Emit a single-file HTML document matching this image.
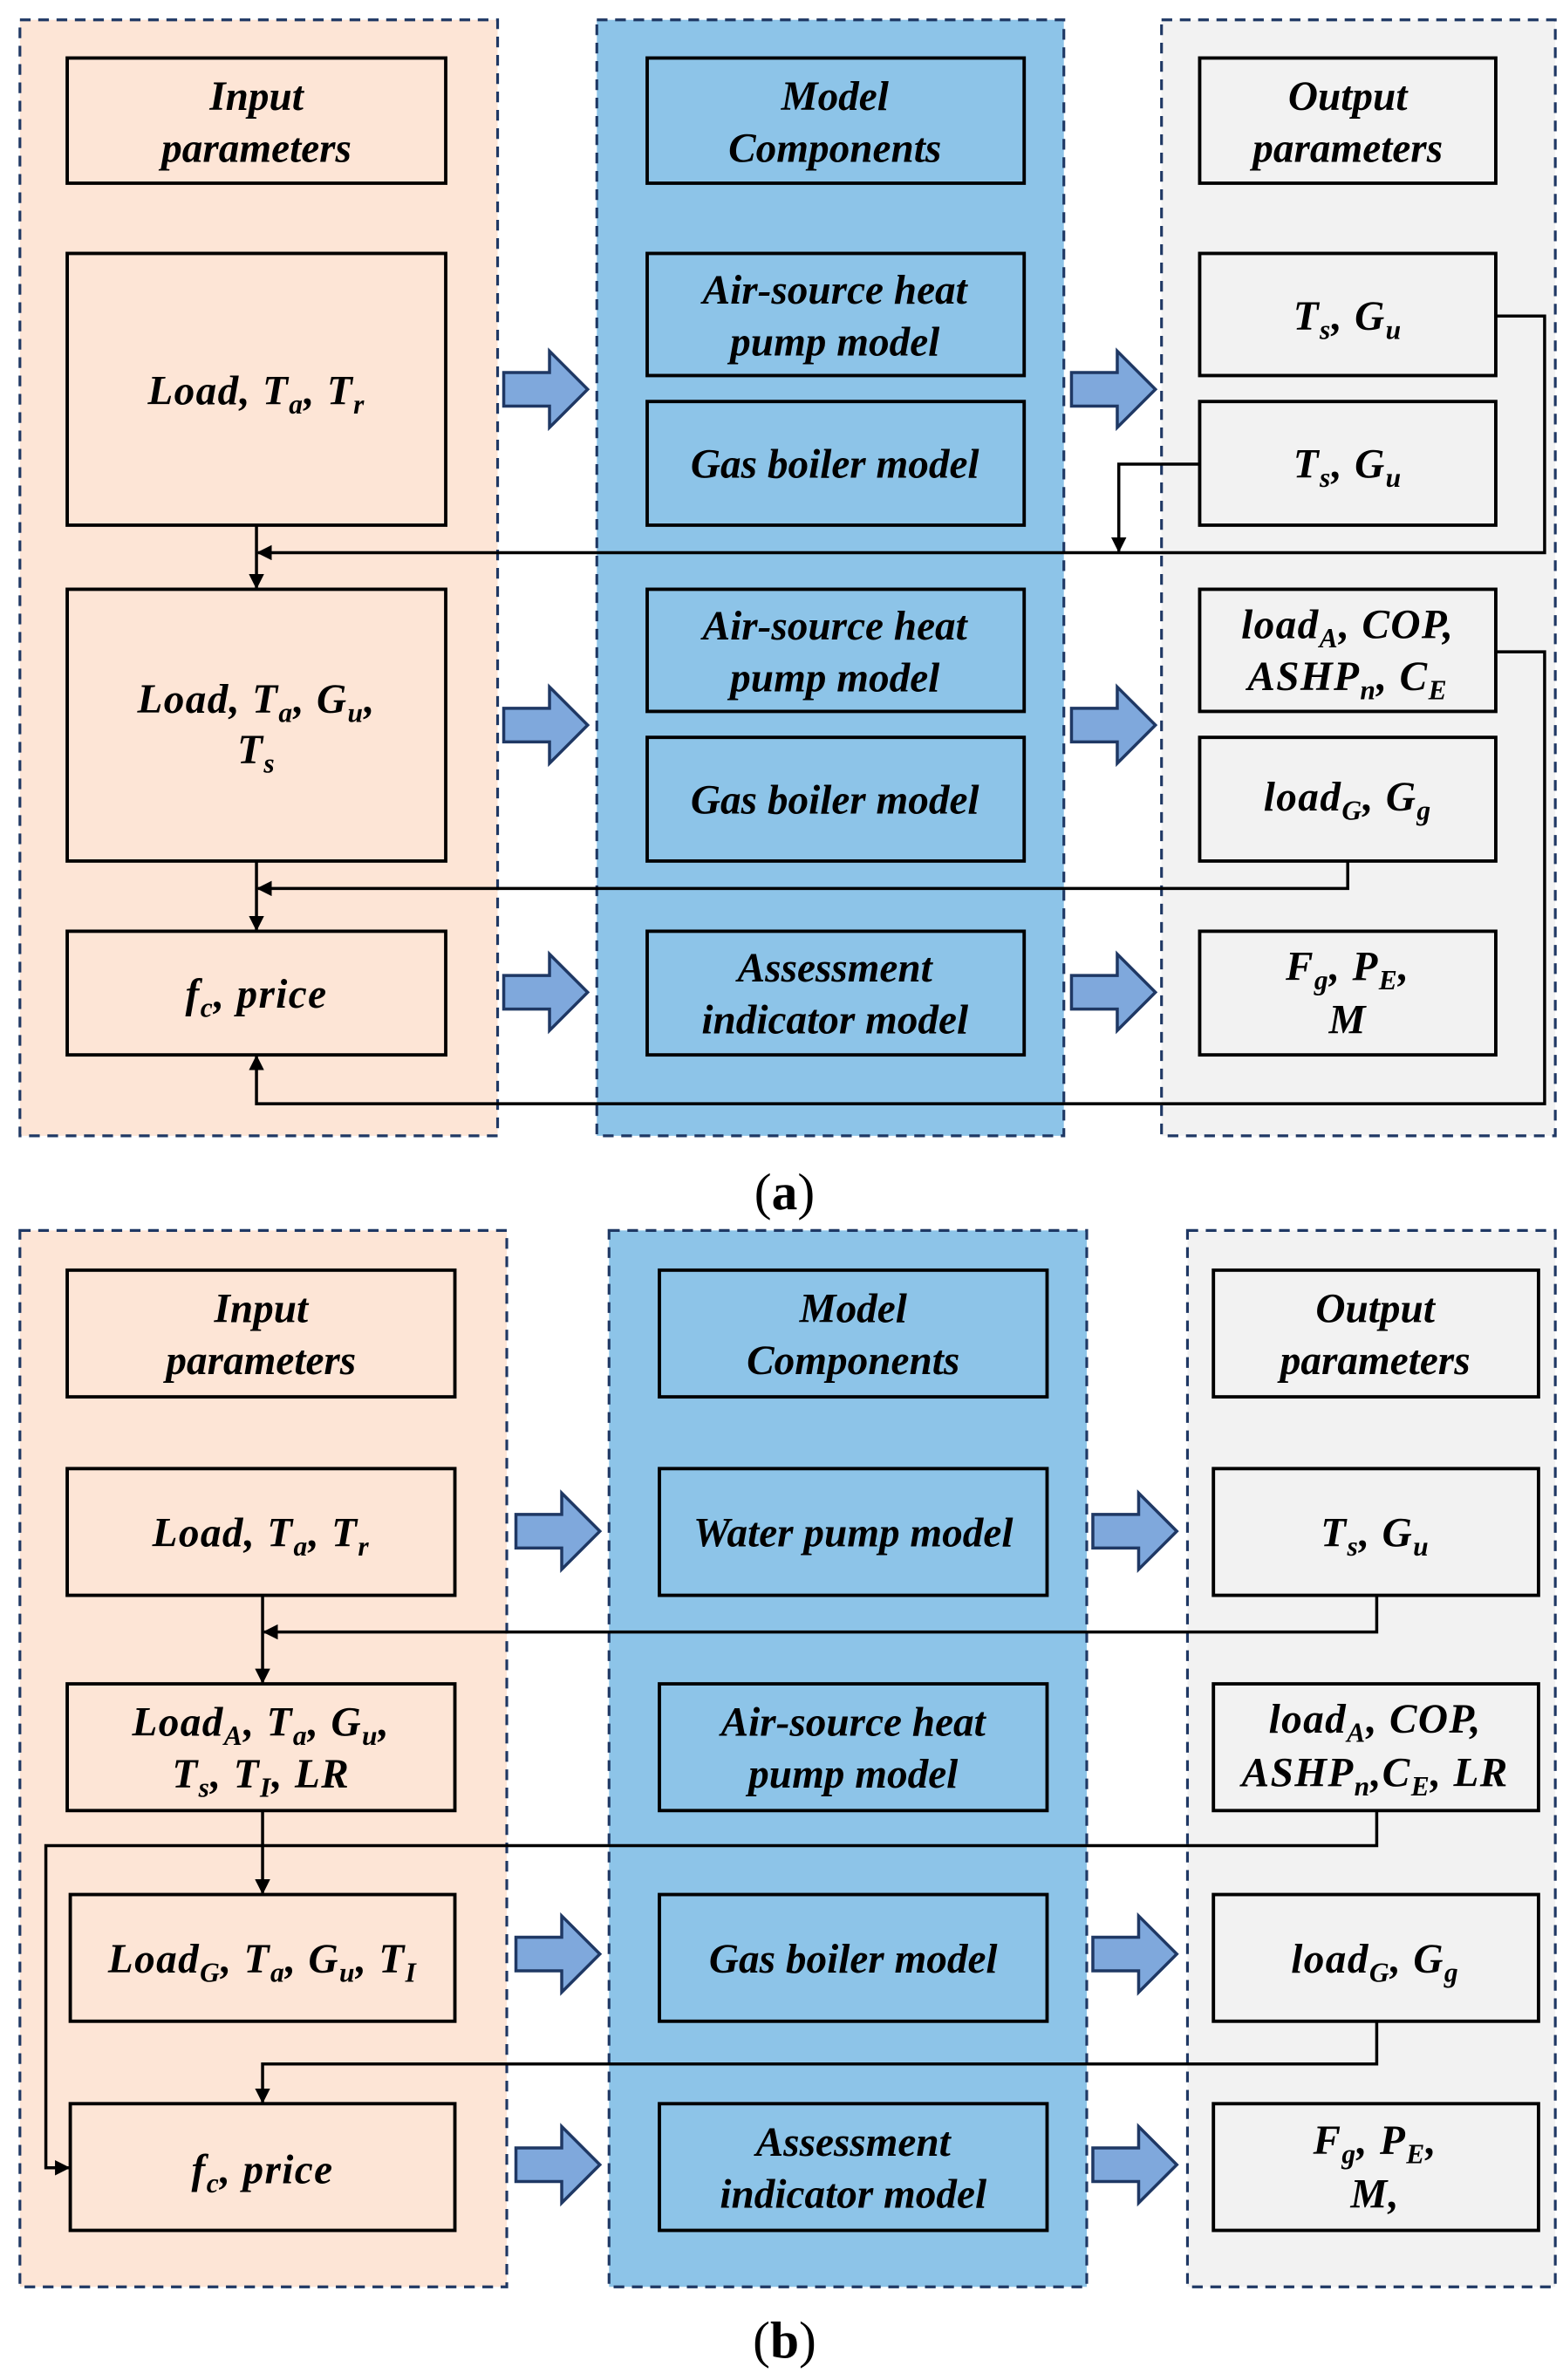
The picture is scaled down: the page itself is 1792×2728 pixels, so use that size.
<!DOCTYPE html>
<html><head><meta charset="utf-8"><style>
html,body{margin:0;padding:0;background:#fff}
svg{display:block}
text{font-family:"Liberation Serif",serif;font-weight:bold;font-style:italic;fill:#000}
.m{letter-spacing:0.8px}
</style></head><body>
<svg width="1792" height="2728" viewBox="0 0 1024 1559" xmlns="http://www.w3.org/2000/svg">
<defs>
<marker id="ah" viewBox="0 0 10 10" refX="9" refY="5" markerWidth="10" markerHeight="10" markerUnits="userSpaceOnUse" orient="auto"><path d="M0,0 L10,5 L0,10 z" fill="#000"/></marker>
</defs>
<g stroke="#1f3864" stroke-width="1.8" stroke-dasharray="7,5">
<rect x="13" y="13" width="313" height="731" fill="#fde5d6"/>
<rect x="391" y="13" width="306" height="731" fill="#8dc4e8"/>
<rect x="761" y="13" width="258" height="731" fill="#f2f2f2"/>
<rect x="13" y="806" width="319" height="692" fill="#fde5d6"/>
<rect x="399" y="806" width="313" height="692" fill="#8dc4e8"/>
<rect x="778" y="806" width="241" height="692" fill="#f2f2f2"/>
</g>
<g stroke="#000" stroke-width="2.2" fill="none">
<rect x="44" y="38" width="248" height="82"/><rect x="44" y="166" width="248" height="178"/><rect x="44" y="386" width="248" height="178"/><rect x="44" y="610" width="248" height="81"/>
<rect x="424" y="38" width="247" height="82"/><rect x="424" y="166" width="247" height="80"/><rect x="424" y="263" width="247" height="81"/><rect x="424" y="386" width="247" height="80"/><rect x="424" y="483" width="247" height="81"/><rect x="424" y="610" width="247" height="81"/>
<rect x="786" y="38" width="194" height="82"/><rect x="786" y="166" width="194" height="80"/><rect x="786" y="263" width="194" height="81"/><rect x="786" y="386" width="194" height="80"/><rect x="786" y="483" width="194" height="81"/><rect x="786" y="610" width="194" height="81"/>
<rect x="44" y="832" width="254" height="83"/><rect x="44" y="962" width="254" height="83"/><rect x="44" y="1103" width="254" height="83"/><rect x="46" y="1241" width="252" height="83"/><rect x="46" y="1378" width="252" height="83"/>
<rect x="432" y="832" width="254" height="83"/><rect x="432" y="962" width="254" height="83"/><rect x="432" y="1103" width="254" height="83"/><rect x="432" y="1241" width="254" height="83"/><rect x="432" y="1378" width="254" height="83"/>
<rect x="795" y="832" width="213" height="83"/><rect x="795" y="962" width="213" height="83"/><rect x="795" y="1103" width="213" height="83"/><rect x="795" y="1241" width="213" height="83"/><rect x="795" y="1378" width="213" height="83"/>
</g>
<g stroke="#000" stroke-width="2" fill="none" marker-end="url(#ah)">
<polyline points="980,207 1012,207 1012,362 169,362"/>
<line x1="168" y1="344" x2="168" y2="385"/>
<polyline points="786,304 733,304 733,361"/>
<polyline points="980,427 1012,427 1012,723 168,723 168,692"/>
<polyline points="883,564 883,582 169,582"/>
<line x1="168" y1="564" x2="168" y2="609"/>
<polyline points="902,1045 902,1069 173,1069"/>
<line x1="172" y1="1045" x2="172" y2="1102"/>
<polyline points="902,1186 902,1209 30,1209 30,1420 45,1420"/>
<line x1="172" y1="1186" x2="172" y2="1240"/>
<polyline points="902,1324 902,1352 172,1352 172,1377"/>
</g>
<g fill="#7fa8dc" stroke="#1f3864" stroke-width="2">
<polygon points="330,244 360,244 360,230 385,255 360,280 360,266 330,266"/>
<polygon points="330,464 360,464 360,450 385,475 360,500 360,486 330,486"/>
<polygon points="330,639 360,639 360,625 385,650 360,675 360,661 330,661"/>
<polygon points="702,244 732,244 732,230 757,255 732,280 732,266 702,266"/>
<polygon points="702,464 732,464 732,450 757,475 732,500 732,486 702,486"/>
<polygon points="702,639 732,639 732,625 757,650 732,675 732,661 702,661"/>
<polygon points="338,992 368,992 368,978 393,1003 368,1028 368,1014 338,1014"/>
<polygon points="338,1269 368,1269 368,1255 393,1280 368,1305 368,1291 338,1291"/>
<polygon points="338,1407 368,1407 368,1393 393,1418 368,1443 368,1429 338,1429"/>
<polygon points="716,992 746,992 746,978 771,1003 746,1028 746,1014 716,1014"/>
<polygon points="716,1269 746,1269 746,1255 771,1280 746,1305 746,1291 716,1291"/>
<polygon points="716,1407 746,1407 746,1393 771,1418 746,1443 746,1429 716,1429"/>
</g>
<g font-size="27" text-anchor="middle">
<text x="168" y="72">Input</text><text x="168" y="106">parameters</text>
<text x="547" y="72">Model</text><text x="547" y="106">Components</text>
<text x="883" y="72">Output</text><text x="883" y="106">parameters</text>
<text x="547" y="199">Air-source heat</text><text x="547" y="233">pump model</text>
<text x="547" y="313">Gas boiler model</text>
<text x="547" y="419">Air-source heat</text><text x="547" y="453">pump model</text>
<text x="547" y="533">Gas boiler model</text>
<text x="547" y="643">Assessment</text><text x="547" y="677">indicator model</text>
<text class="m" x="168" y="265">Load, T<tspan font-size="18" dy="6">a</tspan><tspan dy="-6">, T</tspan><tspan font-size="18" dy="6">r</tspan></text>
<text class="m" x="168" y="467">Load, T<tspan font-size="18" dy="6">a</tspan><tspan dy="-6">,   G</tspan><tspan font-size="18" dy="6">u</tspan><tspan dy="-6">,</tspan></text>
<text class="m" x="168" y="500">T<tspan font-size="18" dy="6">s</tspan></text>
<text class="m" x="168" y="660">f<tspan font-size="18" dy="6">c</tspan><tspan dy="-6">, price</tspan></text>
<text class="m" x="883" y="216">T<tspan font-size="18" dy="6">s</tspan><tspan dy="-6">, G</tspan><tspan font-size="18" dy="6">u</tspan></text>
<text class="m" x="883" y="313">T<tspan font-size="18" dy="6">s</tspan><tspan dy="-6">, G</tspan><tspan font-size="18" dy="6">u</tspan></text>
<text class="m" x="883" y="418">load<tspan font-size="18" dy="6">A</tspan><tspan dy="-6">, COP,</tspan></text>
<text class="m" x="883" y="452">ASHP<tspan font-size="18" dy="6">n</tspan><tspan dy="-6">, C</tspan><tspan font-size="18" dy="6">E</tspan></text>
<text class="m" x="883" y="531">load<tspan font-size="18" dy="6">G</tspan><tspan dy="-6">, G</tspan><tspan font-size="18" dy="6">g</tspan></text>
<text class="m" x="883" y="642">F<tspan font-size="18" dy="6">g</tspan><tspan dy="-6">, P</tspan><tspan font-size="18" dy="6">E</tspan><tspan dy="-6">,</tspan></text>
<text class="m" x="883" y="677">M</text>

<text x="171" y="866">Input</text><text x="171" y="900">parameters</text>
<text x="559" y="866">Model</text><text x="559" y="900">Components</text>
<text x="901" y="866">Output</text><text x="901" y="900">parameters</text>
<text x="559" y="1013">Water pump model</text>
<text x="559" y="1137">Air-source heat</text><text x="559" y="1171">pump model</text>
<text x="559" y="1292">Gas boiler model</text>
<text x="559" y="1412">Assessment</text><text x="559" y="1446">indicator model</text>
<text class="m" x="171" y="1013">Load, T<tspan font-size="18" dy="6">a</tspan><tspan dy="-6">, T</tspan><tspan font-size="18" dy="6">r</tspan></text>
<text class="m" x="171" y="1137">Load<tspan font-size="18" dy="6">A</tspan><tspan dy="-6">, T</tspan><tspan font-size="18" dy="6">a</tspan><tspan dy="-6">, G</tspan><tspan font-size="18" dy="6">u</tspan><tspan dy="-6">,</tspan></text>
<text class="m" x="171" y="1171">T<tspan font-size="18" dy="6">s</tspan><tspan dy="-6">, T</tspan><tspan font-size="18" dy="6">I</tspan><tspan dy="-6">, LR</tspan></text>
<text class="m" x="172" y="1292">Load<tspan font-size="18" dy="6">G</tspan><tspan dy="-6">, T</tspan><tspan font-size="18" dy="6">a</tspan><tspan dy="-6">, G</tspan><tspan font-size="18" dy="6">u</tspan><tspan dy="-6">, T</tspan><tspan font-size="18" dy="6">I</tspan></text>
<text class="m" x="172" y="1430">f<tspan font-size="18" dy="6">c</tspan><tspan dy="-6">, price</tspan></text>
<text class="m" x="901" y="1013">T<tspan font-size="18" dy="6">s</tspan><tspan dy="-6">, G</tspan><tspan font-size="18" dy="6">u</tspan></text>
<text class="m" x="901" y="1135">load<tspan font-size="18" dy="6">A</tspan><tspan dy="-6">, COP,</tspan></text>
<text class="m" x="901" y="1170">ASHP<tspan font-size="18" dy="6">n</tspan><tspan dy="-6">,C</tspan><tspan font-size="18" dy="6">E</tspan><tspan dy="-6">, LR</tspan></text>
<text class="m" x="901" y="1292">load<tspan font-size="18" dy="6">G</tspan><tspan dy="-6">, G</tspan><tspan font-size="18" dy="6">g</tspan></text>
<text class="m" x="901" y="1411">F<tspan font-size="18" dy="6">g</tspan><tspan dy="-6">, P</tspan><tspan font-size="18" dy="6">E</tspan><tspan dy="-6">,</tspan></text>
<text class="m" x="901" y="1446">M,</text>
</g>
<text x="514" y="792" font-size="34" text-anchor="middle" style="font-style:normal;font-weight:normal">(<tspan font-weight="bold">a</tspan>)</text>
<text x="514" y="1544" font-size="34" text-anchor="middle" style="font-style:normal;font-weight:normal">(<tspan font-weight="bold">b</tspan>)</text>
</svg>
</body></html>
